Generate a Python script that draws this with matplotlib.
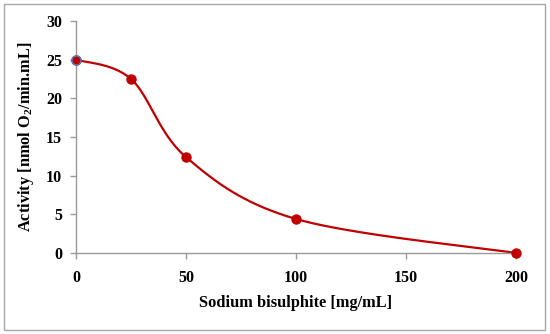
import numpy as np
import matplotlib
matplotlib.use("Agg")
import matplotlib.pyplot as plt
from matplotlib.patches import Rectangle

concentration = [0, 25, 50, 100, 200]
activity = [25.0, 22.5, 12.4, 4.4, 0.0]
x_ticks = [0, 50, 100, 150, 200]
y_ticks = [0, 5, 10, 15, 20, 25, 30]

plt.rcParams['font.family'] = ['Liberation Serif', 'DejaVu Serif']
plt.rcParams['mathtext.fontset'] = 'custom'
plt.rcParams['mathtext.rm'] = 'Liberation Serif:bold'
plt.rcParams['mathtext.bf'] = 'Liberation Serif:bold'

fig = plt.figure(figsize=(5.5, 3.34), dpi=100)
fig.patch.set_facecolor('white')
fig.add_artist(Rectangle((4/550, 4/334), 541/550, 326/334, transform=fig.transFigure,
                         fill=False, edgecolor='#a6a6a6', linewidth=1.0))
ax = fig.add_axes([76/550, 81/334, 440/550, 232/334])
ax.set_xlim(0, 200)
ax.set_ylim(0, 30)

# Excel-like smoothing (Catmull-Rom / Bezier) in axes-normalized space
xs = np.array(concentration, float) / 200 * 440
ys = np.array(activity, float) / 30 * 232
P = np.column_stack([xs, ys])
curve = []
n = len(P)
for i in range(n - 1):
    p0 = P[i - 1] if i > 0 else P[i]
    p1 = P[i]
    p2 = P[i + 1]
    p3 = P[i + 2] if i + 2 < n else P[i + 1]
    c1 = p1 + (p2 - p0) / 6
    c2 = p2 - (p3 - p1) / 6
    t = np.linspace(0, 1, 60)[:, None]
    seg = (1 - t) ** 3 * p1 + 3 * (1 - t) ** 2 * t * c1 + 3 * (1 - t) * t ** 2 * c2 + t ** 3 * p2
    curve.append(seg if i == 0 else seg[1:])
curve = np.vstack(curve)
ax.plot(curve[:, 0] / 440 * 200, curve[:, 1] / 232 * 30, color='#C00000', lw=1.6,
        clip_on=False, zorder=2)
ax.plot(concentration, activity, 'o', color='#C00000', markersize=6.5,
        markeredgecolor='#C00000', clip_on=False, zorder=3)
ax.plot(concentration[:1], activity[:1], 'o', color='#C00000', markersize=6.5,
        markeredgecolor='#4F81BD', markeredgewidth=1.0, clip_on=False, zorder=4)

for s in ['top', 'right']:
    ax.spines[s].set_visible(False)
for s in ['left', 'bottom']:
    ax.spines[s].set_color('#999999')
    ax.spines[s].set_linewidth(1.0)
ax.set_xticks(x_ticks)
ax.set_yticks(y_ticks)
ax.tick_params(axis='both', direction='out', length=4, color='#999999', width=1.0,
               labelsize=11.5, pad=6)
for lab in ax.get_xticklabels() + ax.get_yticklabels():
    lab.set_fontweight('bold')
ax.tick_params(axis='x', pad=8)
ax.set_xlabel('Sodium bisulphite [mg/mL]', fontsize=11.8, fontweight='bold', labelpad=7)
ax.set_ylabel('Activity [nmol O$_2$/min.mL]', fontsize=11.8, fontweight='bold', labelpad=7)

fig.savefig('out.png', dpi=100)
